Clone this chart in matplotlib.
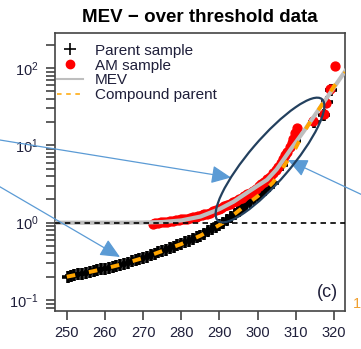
import matplotlib
matplotlib.use('Agg')
import matplotlib.pyplot as plt
from matplotlib.lines import Line2D
from matplotlib.patches import Ellipse, FancyArrowPatch
from matplotlib.ticker import LogLocator, NullFormatter, LogFormatterSciNotation

plt.rcParams['font.family'] = ['Liberation Sans', 'DejaVu Sans']
plt.rcParams['mathtext.default'] = 'regular'

# ---------------- data ----------------
parent_x = [250.2, 251, 252, 253, 254, 255, 256, 257, 258, 259, 260, 261, 262, 263,
            264, 265, 266, 267, 268, 269, 270, 271, 272, 273, 274, 275, 276, 277,
            278, 279, 280, 281, 282, 283, 284, 285, 286, 287, 288, 289, 290, 291,
            292, 293, 294, 295, 296, 297, 298, 299, 300, 301, 302, 303, 304,
            306.5, 309.9, 314.7, 317.4, 318.1, 319.1]
parent_y = [0.200, 0.204, 0.209, 0.214, 0.220, 0.225, 0.231, 0.237, 0.243, 0.249,
            0.255, 0.262, 0.270, 0.278, 0.286, 0.295, 0.305, 0.316, 0.327, 0.338,
            0.350, 0.364, 0.379, 0.395, 0.412, 0.430, 0.448, 0.467, 0.487, 0.508,
            0.530, 0.556, 0.583, 0.612, 0.644, 0.680, 0.723, 0.770, 0.820, 0.875,
            0.935, 1.00, 1.09, 1.19, 1.30, 1.42, 1.55, 1.70, 1.85, 2.02, 2.20, 2.42,
            2.65, 2.95, 3.30, 5.6, 11.5, 20.0, 25.0, 36.0, 52.0]

am_x = [272.5, 273.2, 274, 274.8, 275.5, 276.3, 277, 277.8, 278.5, 279.3, 280,
        280.8, 281.5, 282.3, 283, 283.8, 284.5, 285.3, 286, 286.8, 287.5, 288.3,
        289, 289.8, 290.5, 291.3, 292, 292.8, 293.5, 294.3, 295, 295.8, 296.5,
        297.3, 298, 298.8, 299.5, 300.3, 301, 301.8, 302.5, 303.2, 304, 304.7,
        305.4, 306, 306.6, 307.2, 307.8, 308.4, 308.9, 309.4, 309.9, 310.2,
        314.5, 317.3, 318.0, 319.0, 320.2]
am_y = [0.97, 0.98, 1.00, 1.02, 1.03, 1.03, 1.05, 1.06, 1.08, 1.09, 1.10, 1.11,
        1.13, 1.15, 1.17, 1.19, 1.22, 1.25, 1.28, 1.31, 1.35, 1.40, 1.45, 1.50,
        1.56, 1.62, 1.69, 1.76, 1.83, 1.92, 2.00, 2.10, 2.20, 2.32, 2.45, 2.60,
        2.75, 2.95, 3.15, 3.40, 3.65, 3.95, 4.35, 4.80, 5.30, 5.90, 6.60, 7.40,
        8.30, 9.50, 10.8, 12.2, 14.5, 17.0, 20.5, 25.5, 35.0, 53.0, 105.0]

mev_x = [246.0, 255, 265, 270, 275, 280, 285, 290, 293.7, 297, 300, 302.5, 305,
         308.6, 312, 316, 320, 323]
mev_y = [1.0, 1.0, 1.0, 1.005, 1.02, 1.07, 1.2, 1.5, 1.87, 2.4, 3.0, 3.6, 4.9,
         8.8, 15.0, 29.0, 56.0, 92.0]

comp_x = [250, 255, 260, 265, 270, 275, 280, 285, 288, 291, 294, 297, 300, 302.5,
          304, 306, 308, 310, 312, 314, 316, 318, 320, 323]
comp_y = [0.20, 0.225, 0.255, 0.295, 0.35, 0.43, 0.53, 0.68, 0.82, 1.0, 1.3, 1.7,
          2.2, 2.8, 3.3, 4.6, 6.5, 9.3, 14.5, 21.0, 29.0, 41.0, 58.0, 88.0]

threshold = 1.0
x_ticks = [250, 260, 270, 280, 290, 300, 310, 320]
legend_labels = ['Parent sample', 'AM sample', 'MEV', 'Compound parent']
title = 'MEV \u2212 over threshold data'
panel_label = '(c)'

# ---------------- figure ----------------
W, H = 361, 349
fig = plt.figure(figsize=(W / 100, H / 100), dpi=100)
ax = fig.add_axes([55 / W, 38 / H, 290 / W, 278 / H])
ax.set_yscale('log')
ax.set_xlim(246.9, 322.9)
ax.set_ylim(0.0721, 284)

txtc = '#1f1f3a'
ax.plot(parent_x, parent_y, ls='none', marker='+', ms=9, mew=2.6, color='black', zorder=2)
ax.plot(am_x, am_y, ls='none', marker='o', ms=6.4, color='red', mec='red', zorder=3)
ax.plot(mev_x, mev_y, color='#bebebe', lw=3, zorder=4)
ax.plot(comp_x, comp_y, color='#FFA500', lw=2.8, ls=(0, (2.2, 3.6)), zorder=5)
ax.axhline(threshold, color='black', lw=1.2, ls=(0, (3.3, 2.6)), zorder=6)

ax.set_xticks(x_ticks)
ax.yaxis.set_major_locator(LogLocator(base=10, numticks=10))
ax.yaxis.set_major_formatter(LogFormatterSciNotation())
ax.yaxis.set_minor_locator(LogLocator(base=10, subs=range(2, 10), numticks=20))
ax.yaxis.set_minor_formatter(NullFormatter())
ax.tick_params(axis='x', length=6.5, width=1.1, pad=4, labelsize=10.5,
               color='#333333', labelcolor=txtc)
ax.tick_params(axis='y', which='both', length=6.5, width=1.1, pad=5, labelsize=10.5,
               color='#333333', labelcolor=txtc)
for s in ax.spines.values():
    s.set_color('#444444')
    s.set_linewidth(1.2)

ax.set_title(title, fontsize=13.5, fontweight='bold', pad=8, color='black')
ax.text(0.976, 0.065, panel_label, transform=ax.transAxes, ha='right', va='center',
        fontsize=13, color=txtc)

handles = [Line2D([], [], ls='none', marker='+', ms=9, mew=1.2, color='black'),
           Line2D([], [], ls='none', marker='o', ms=6, color='red'),
           Line2D([], [], color='#bebebe', lw=1.5),
           Line2D([], [], color='#FFA500', lw=1.1, ls=(0, (3, 3)))]
leg = ax.legend(handles, legend_labels, loc='upper left', bbox_to_anchor=(0.007, 0.961),
                frameon=False, fontsize=11, borderpad=0, borderaxespad=0,
                handlelength=1.7, handletextpad=0.79, labelspacing=0.05)
for t in leg.get_texts():
    t.set_color(txtc)

# glyph of the neighbouring panel at the right edge
fig.text(360.5 / W, 1 - 304 / H, '1', color='#f0a030', fontsize=10.5, ha='right', va='center')

# ---------------- annotations (image pixel coords -> inches) ----------------
def px(x, y):
    return (x / 100, (H - y) / 100)

blue = '#5b9bd5'
arrows = [((-10, 138.4), (231, 177.5)),
          ((-10, 181.0), (120, 257.0)),
          ((371, 199.0), (288, 160.0))]
for a, b in arrows:
    fa = FancyArrowPatch(px(*a), px(*b), transform=fig.dpi_scale_trans,
                         arrowstyle='-|>,head_length=1.2,head_width=0.55',
                         mutation_scale=10, color=blue, lw=0.9,
                         shrinkA=0, shrinkB=0, zorder=10)
    fig.add_artist(fa)

ell = Ellipse(px(270, 160), 1.60, 0.42, angle=49.5, transform=fig.dpi_scale_trans,
              fill=False, edgecolor='#23405e', lw=1.6, zorder=11)
fig.add_artist(ell)

fig.savefig('out.png', dpi=100)
